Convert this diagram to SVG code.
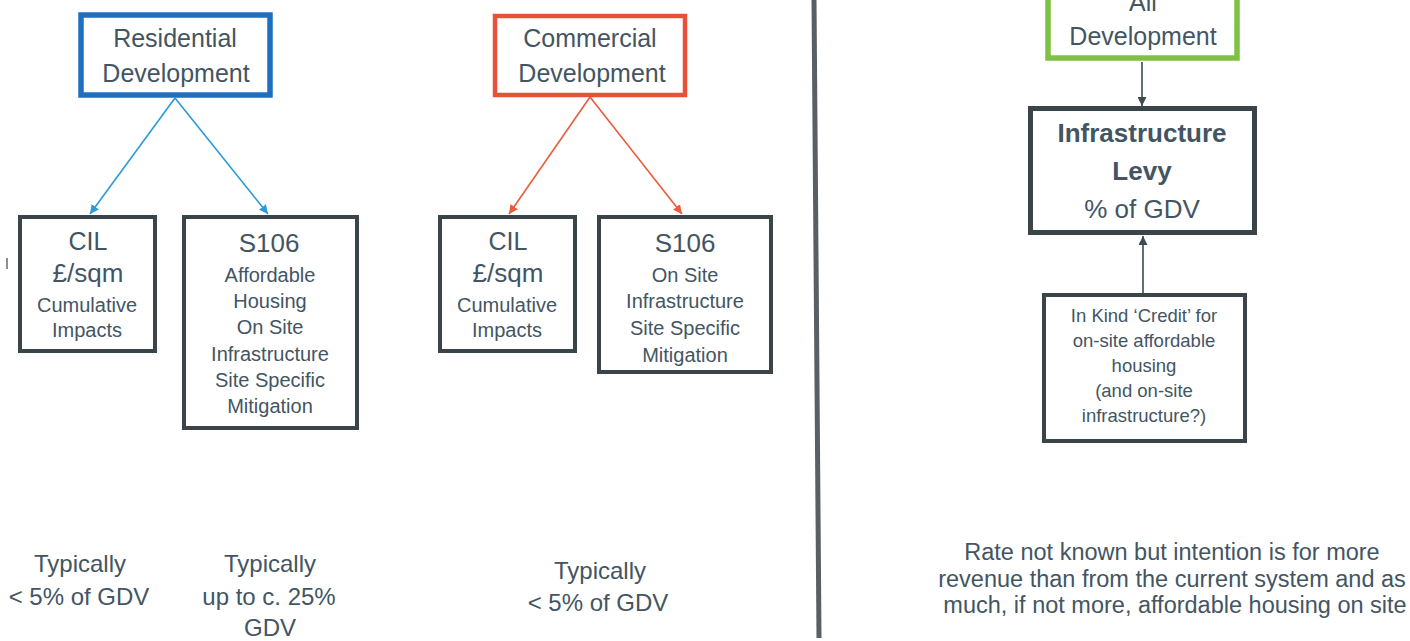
<svg xmlns="http://www.w3.org/2000/svg" width="1410" height="641" viewBox="0 0 1410 641">
<style>
text{font-family:"Liberation Sans",Arial,sans-serif;fill:#435563;text-anchor:middle}
.box{fill:#fff;stroke:#3b4449;stroke-width:4}
.t25{font-size:25px}
.t26{font-size:26px}
.t20{font-size:20px}
.t18{font-size:18.5px}
.b{font-weight:bold}
.foot{font-size:24px}
.para{font-size:23.5px}
</style>
<defs>
<marker id="ab" markerUnits="userSpaceOnUse" markerWidth="9" markerHeight="9" refX="9" refY="4.5" orient="auto"><path d="M0,0 L9,4.5 L0,9 z" fill="#2b9ad6"/></marker>
<marker id="ar" markerUnits="userSpaceOnUse" markerWidth="9" markerHeight="9" refX="9" refY="4.5" orient="auto"><path d="M0,0 L9,4.5 L0,9 z" fill="#ea5b3c"/></marker>
<marker id="ag" markerUnits="userSpaceOnUse" markerWidth="9" markerHeight="9" refX="9" refY="4.5" orient="auto"><path d="M0,0 L9,4.5 L0,9 z" fill="#3d4a50"/></marker>
</defs>
<rect width="1410" height="641" fill="#fff"/>

<g id="connectors">
<line x1="175" y1="98" x2="90" y2="214" stroke="#2b9ad6" stroke-width="1.6" marker-end="url(#ab)"/>
<line x1="175" y1="98" x2="268" y2="214" stroke="#2b9ad6" stroke-width="1.6" marker-end="url(#ab)"/>
<line x1="590" y1="97" x2="509" y2="214" stroke="#ea5b3c" stroke-width="1.6" marker-end="url(#ar)"/>
<line x1="590" y1="97" x2="682" y2="214" stroke="#ea5b3c" stroke-width="1.6" marker-end="url(#ar)"/>
<line x1="1142" y1="62" x2="1142" y2="106" stroke="#3d4a50" stroke-width="1.6" marker-end="url(#ag)"/>
<line x1="1143" y1="293" x2="1143" y2="236" stroke="#3d4a50" stroke-width="1.6" marker-end="url(#ag)"/>
</g>

<line id="divider" x1="814" y1="0" x2="819" y2="638" stroke="#595f63" stroke-width="5"/>
<rect x="6" y="258" width="2" height="11" fill="#8a9196"/>

<g id="residential">
<rect x="81" y="15" width="189" height="80" fill="#fff" stroke="#1e6fbf" stroke-width="5.5"/>
<text x="175" y="47" class="t25">Residential</text>
<text x="176" y="82" class="t25">Development</text>
</g>

<g id="commercial">
<rect x="495" y="16" width="190" height="79" fill="#fff" stroke="#e8503a" stroke-width="4.5"/>
<text x="590" y="47" class="t25">Commercial</text>
<text x="592" y="82" class="t25">Development</text>
</g>

<g id="res-cil">
<rect x="20" y="217" width="135" height="134" class="box"/>
<text x="88" y="250" class="t25">CIL</text>
<text x="88" y="282" class="t26">£/sqm</text>
<text x="87" y="312" class="t20">Cumulative</text>
<text x="87" y="337" class="t20">Impacts</text>
</g>

<g id="res-s106">
<rect x="184" y="217" width="173" height="211" class="box"/>
<text x="269" y="252" class="t26">S106</text>
<text x="270" y="282" class="t20">Affordable</text>
<text x="270" y="308" class="t20">Housing</text>
<text x="270" y="334" class="t20">On Site</text>
<text x="270" y="361" class="t20">Infrastructure</text>
<text x="270" y="387" class="t20">Site Specific</text>
<text x="270" y="413" class="t20">Mitigation</text>
</g>

<g id="com-cil">
<rect x="440" y="217" width="135" height="134" class="box"/>
<text x="508" y="250" class="t25">CIL</text>
<text x="508" y="282" class="t26">£/sqm</text>
<text x="507" y="312" class="t20">Cumulative</text>
<text x="507" y="337" class="t20">Impacts</text>
</g>

<g id="com-s106">
<rect x="599" y="217" width="172" height="155" class="box"/>
<text x="685" y="252" class="t26">S106</text>
<text x="685" y="282" class="t20">On Site</text>
<text x="685" y="308" class="t20">Infrastructure</text>
<text x="685" y="335" class="t20">Site Specific</text>
<text x="685" y="362" class="t20">Mitigation</text>
</g>

<g id="all-dev">
<rect x="1048" y="-30" width="189" height="88" fill="#fff" stroke="#7dc242" stroke-width="5.5"/>
<text x="1143" y="11" class="t25">All</text>
<text x="1143" y="45" class="t25">Development</text>
</g>

<g id="levy">
<rect x="1030.5" y="108.5" width="224" height="124" fill="#fff" stroke="#3b4449" stroke-width="5"/>
<text x="1142" y="142" class="t26 b">Infrastructure</text>
<text x="1142" y="180" class="t26 b">Levy</text>
<text x="1142" y="218" class="t26">% of GDV</text>
</g>

<g id="credit">
<rect x="1044" y="295" width="201" height="146" class="box"/>
<text x="1144" y="322" class="t18">In Kind ‘Credit’ for</text>
<text x="1144" y="347" class="t18">on-site affordable</text>
<text x="1144" y="372" class="t18">housing</text>
<text x="1144" y="397" class="t18">(and on-site</text>
<text x="1144" y="422" class="t18">infrastructure?)</text>
</g>

<g id="notes">
<text x="80" y="572" class="foot">Typically</text>
<text x="79" y="605" class="foot">&lt; 5% of GDV</text>
<text x="270" y="572" class="foot">Typically</text>
<text x="269" y="605" class="foot">up to c. 25%</text>
<text x="270" y="636" class="foot">GDV</text>
<text x="600" y="579" class="foot">Typically</text>
<text x="598" y="611" class="foot">&lt; 5% of GDV</text>
<text x="1172" y="560" class="para">Rate not known but intention is for more</text>
<text x="1172" y="587" class="para">revenue than from the current system and as</text>
<text x="1175" y="613" class="para">much, if not more, affordable housing on site</text>
</g>
</svg>
